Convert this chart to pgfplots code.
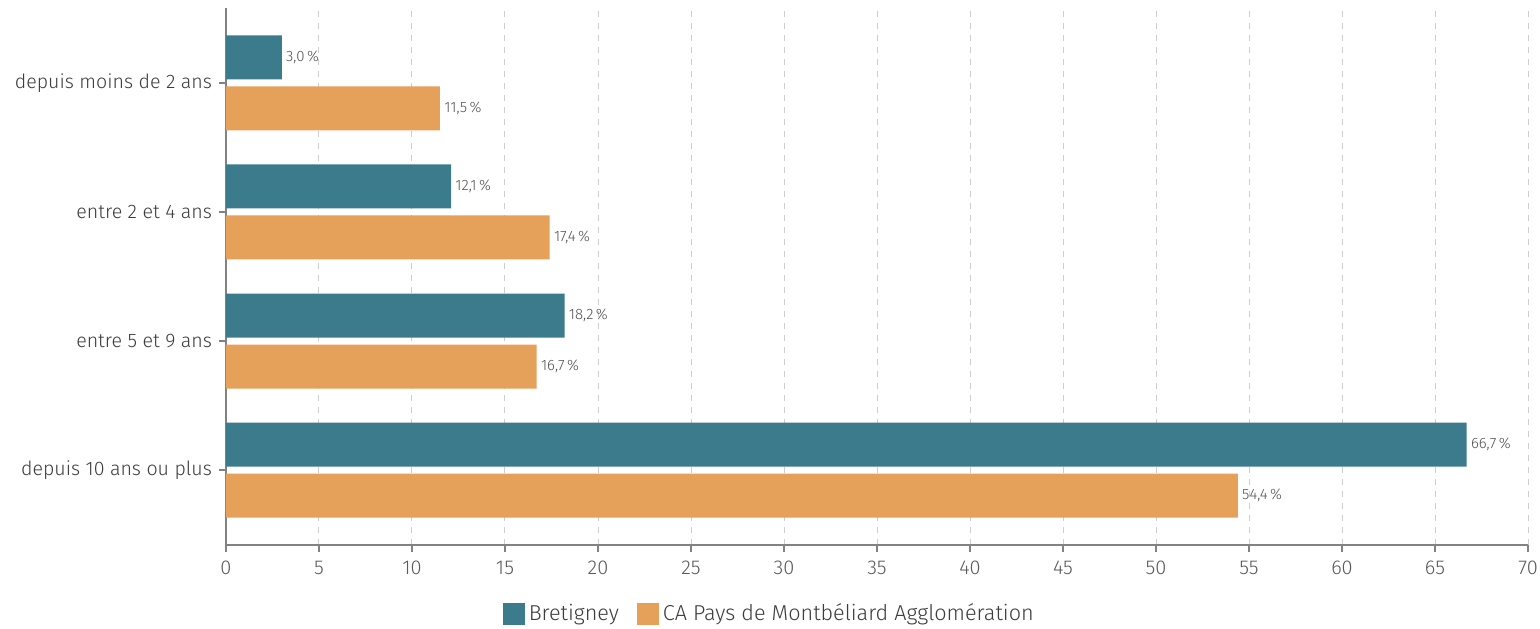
\documentclass[border=0pt]{standalone}
\usepackage{fontspec}
\setmainfont{Fira Sans}[UprightFont=* Light]
\usepackage{pgfplots}
\pgfplotsset{compat=1.18}
\definecolor{teal1}{RGB}{59,123,140}
\definecolor{orng}{RGB}{229,160,90}
\definecolor{gridc}{RGB}{205,205,205}
\definecolor{axc}{RGB}{130,130,130}
\definecolor{txt}{RGB}{60,60,60}
\begin{document}
\begin{tikzpicture}
\begin{axis}[
 scale only axis, width=651pt, height=268.5pt,
 xbar, bar width=22pt,
 xmin=0, xmax=70, xtick={0,5,...,70},
 ymin=-0.58, ymax=3.58,
 ytick={0,1,2,3},
 yticklabels={depuis 10 ans ou plus, entre 5 et 9 ans, entre 2 et 4 ans, depuis moins de 2 ans},
 axis x line*=bottom, axis y line*=left,
 x axis line style={axc, line width=1.2pt, -},
 y axis line style={axc, line width=0.8pt, -},
 xmajorgrids, major grid style={gridc, dashed, line width=0.5pt},
 tick style={axc, line width=1pt},
 tick align=outside, major tick length=3.5pt,
 /pgf/number format/assume math mode=true,
 xticklabel style={font=\fontsize{10}{12}\selectfont, text=txt!85, yshift=-1pt},
 yticklabel style={font=\fontsize{9.8}{11}\selectfont, text=txt},
 point meta=x,
 nodes near coords={\pgfmathprintnumber[fixed,fixed zerofill,precision=1,use comma]{\pgfplotspointmeta}\,\%},
 nodes near coords style={font=\fontsize{7.5}{9}\selectfont, text=txt!90, anchor=west, inner sep=2pt},
 every axis plot post/.append style={legend image code/.code={\fill[##1] (0pt,-5.5pt) rectangle (11pt,5.5pt);}},
 legend style={at={(0.418,-0.1285)}, anchor=center, draw=none, legend columns=-1,
   font=\fontsize{10.8}{12}\selectfont, text=txt,
   /tikz/every even column/.append style={column sep=7pt}},
]
\addplot[fill=teal1, draw=none, bar shift=12.75pt] coordinates {(66.7,0) (18.2,1) (12.1,2) (3.0,3)};
\addplot[fill=orng, draw=none, bar shift=-12.75pt] coordinates {(54.4,0) (16.7,1) (17.4,2) (11.5,3)};
\legend{Bretigney, CA Pays de Montbéliard Agglomération}
\end{axis}
\pgfresetboundingbox
\path ([shift={(-113pt,-41.5pt)}]current axis.south west) rectangle ([shift={(6pt,4pt)}]current axis.north east);
\end{tikzpicture}
\end{document}
